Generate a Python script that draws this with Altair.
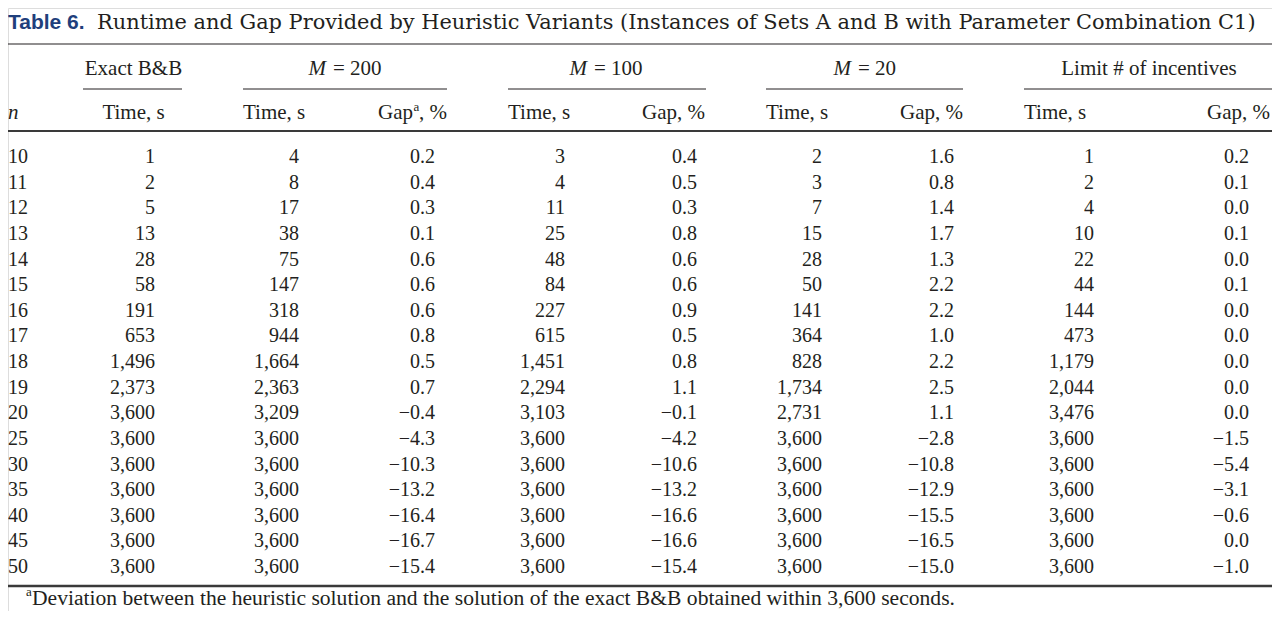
import altair as alt
import pandas as pd

# ---------------- data ----------------
n_vals = [10, 11, 12, 13, 14, 15, 16, 17, 18, 19, 20, 25, 30, 35, 40, 45, 50]
exact_time = [1, 2, 5, 13, 28, 58, 191, 653, 1496, 2373, 3600, 3600, 3600, 3600, 3600, 3600, 3600]
m200_time = [4, 8, 17, 38, 75, 147, 318, 944, 1664, 2363, 3209, 3600, 3600, 3600, 3600, 3600, 3600]
m200_gap = [0.2, 0.4, 0.3, 0.1, 0.6, 0.6, 0.6, 0.8, 0.5, 0.7, -0.4, -4.3, -10.3, -13.2, -16.4, -16.7, -15.4]
m100_time = [3, 4, 11, 25, 48, 84, 227, 615, 1451, 2294, 3103, 3600, 3600, 3600, 3600, 3600, 3600]
m100_gap = [0.4, 0.5, 0.3, 0.8, 0.6, 0.6, 0.9, 0.5, 0.8, 1.1, -0.1, -4.2, -10.6, -13.2, -16.6, -16.6, -15.4]
m20_time = [2, 3, 7, 15, 28, 50, 141, 364, 828, 1734, 2731, 3600, 3600, 3600, 3600, 3600, 3600]
m20_gap = [1.6, 0.8, 1.4, 1.7, 1.3, 2.2, 2.2, 1.0, 2.2, 2.5, 1.1, -2.8, -10.8, -12.9, -15.5, -16.5, -15.0]
lim_time = [1, 2, 4, 10, 22, 44, 144, 473, 1179, 2044, 3476, 3600, 3600, 3600, 3600, 3600, 3600]
lim_gap = [0.2, 0.1, 0.0, 0.1, 0.0, 0.1, 0.0, 0.0, 0.0, 0.0, 0.0, -1.5, -5.4, -3.1, -0.6, 0.0, -1.0]

title_lead = "Table 6."
title_text = "Runtime and Gap Provided by Heuristic Variants (Instances of Sets A and B with Parameter Combination C1)"
footnote = "Deviation between the heuristic solution and the solution of the exact B&B obtained within 3,600 seconds."

# column order: 0=n, 1..9 value columns
time_cols = {1: exact_time, 2: m200_time, 4: m100_time, 6: m20_time, 8: lim_time}
gap_cols = {3: m200_gap, 5: m100_gap, 7: m20_gap, 9: lim_gap}

rows = [str(v) for v in n_vals]
time_df = pd.DataFrame(
    [{"row": r, "col": c, "value": vals[i]} for c, vals in time_cols.items() for i, r in enumerate(rows)]
)
gap_df = pd.DataFrame(
    [{"row": r, "col": c, "value": vals[i]} for c, vals in gap_cols.items() for i, r in enumerate(rows)]
)
n_df = pd.DataFrame({"row": rows, "col": 0, "label": rows})

# ---------------- layout ----------------
W, H = 1264, 603
SERIF = "Liberation Serif"
INK = "#231f20"

col_pos = [0, 147, 291, 427, 557, 689, 814, 946, 1086, 1241]
xscale = alt.Scale(domain=list(range(10)), range=col_pos)
yscale = alt.Scale(type="point", domain=rows, range=[149, 559], padding=0)

X = alt.X("col:Q", scale=xscale, axis=None)
Y = alt.Y("row:O", scale=yscale, axis=None)

time_layer = alt.Chart(time_df).mark_text(
    align="right", baseline="middle", font=SERIF, fontSize=20, color=INK
).encode(x=X, y=Y, text=alt.Text("value:Q", format=","))

gap_layer = alt.Chart(gap_df).mark_text(
    align="right", baseline="middle", font=SERIF, fontSize=20, color=INK
).encode(x=X, y=Y, text=alt.Text("value:Q", format=".1f"))

n_layer = alt.Chart(n_df).mark_text(
    align="left", baseline="middle", font=SERIF, fontSize=20, color=INK
).encode(x=X, y=Y, text="label:N")


def label(t, x, y, align="left", size=21, font=SERIF, style="normal", weight="normal",
          color=INK, baseline="middle"):
    return alt.Chart(alt.Data(values=[{"t": t}])).mark_text(
        align=align, baseline=baseline, font=font, fontSize=size,
        fontStyle=style, fontWeight=weight, color=color
    ).encode(x=alt.value(x), y=alt.value(y), text="t:N")


def hrule(x1, x2, y, w=1, color=INK):
    return alt.Chart(alt.Data(values=[{}])).mark_rule(strokeWidth=w, color=color).encode(
        x=alt.value(x1), x2=alt.value(x2), y=alt.value(y)
    )


H1, H2 = 61, 105
layers = [
    label(title_lead, 0, 21, size=21, font="Liberation Sans", weight="bold",
          color="#1f3f7c", baseline="alphabetic"),
    label(title_text, 89, 21, size=20.9, font="DejaVu Serif", baseline="alphabetic"),
    hrule(0, W, 36, 1.2),
    # group headers
    label("Exact B&B", 125.5, H1, align="center"),
    label("M", 318, H1, align="right", style="italic"),
    label("= 200", 325, H1),
    label("M", 579, H1, align="right", style="italic"),
    label("= 100", 586, H1),
    label("M", 843, H1, align="right", style="italic"),
    label("= 20", 850, H1),
    label("Limit # of incentives", 1141, H1, align="center"),
    hrule(75, 174, 81),
    hrule(235, 439, 81),
    hrule(500, 698, 81),
    hrule(758, 955, 81),
    hrule(1016, W, 81),
    # column headers
    label("n", 0, H2, style="italic"),
    label("Time, s", 125.5, H2, align="center"),
    label("Time, s", 235, H2),
    label("Gap", 405, H2, align="right"),
    label("a", 405.5, H2 - 6, size=13),
    label(", %", 439, H2, align="right"),
    label("Time, s", 500, H2),
    label("Gap, %", 697, H2, align="right"),
    label("Time, s", 758, H2),
    label("Gap, %", 955, H2, align="right"),
    label("Time, s", 1016, H2),
    label("Gap, %", 1262, H2, align="right"),
    hrule(0, W, 123, 2.2, "#3a3a3a"),
    n_layer,
    time_layer,
    gap_layer,
    hrule(0, W, 578, 2.4, "#3a3a3a"),
    label("a", 18, 588, size=13, baseline="alphabetic"),
    label(footnote, 24, 597, size=21.6, baseline="alphabetic"),
]

chart = alt.layer(*layers).properties(
    width=W, height=H, padding=0, autosize="none"
).configure_view(stroke=None).configure(background="white")

chart.save("out.html", embed_options={"renderer": "svg", "actions": False})
